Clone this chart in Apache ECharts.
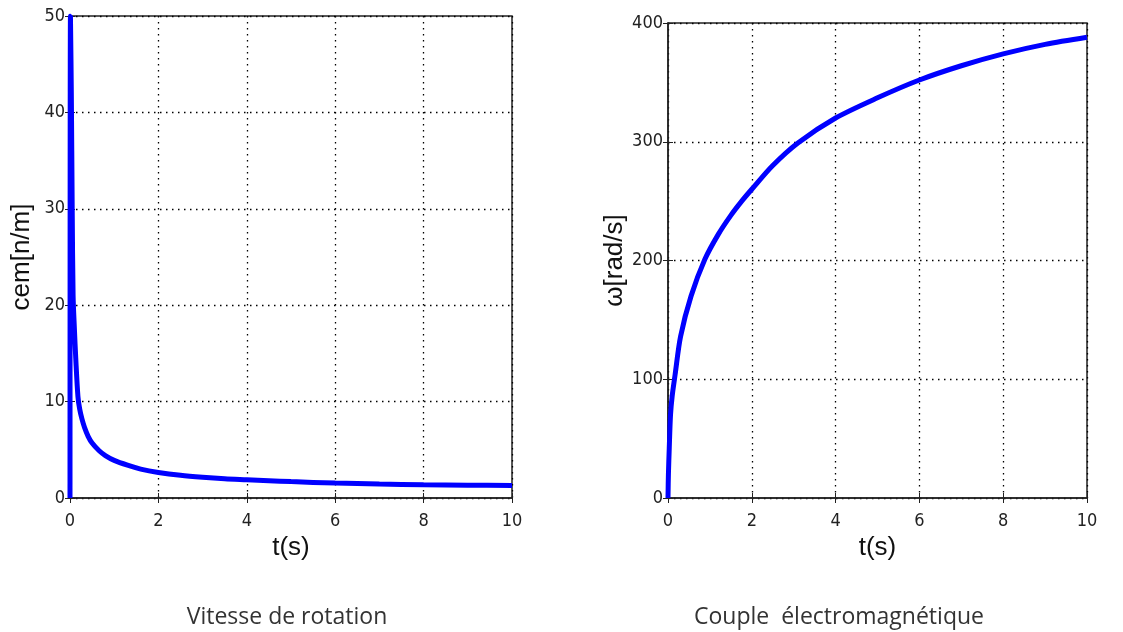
<!DOCTYPE html>
<html>
<head>
<meta charset="utf-8">
<script src="https://cdn.jsdelivr.net/npm/echarts@6/dist/echarts.min.js"></script>
<style>html,body{margin:0;padding:0;background:#fff}#c{width:1123px;height:632px}</style>
</head>
<body>
<div id="c"></div>
<script>
// Left chart: cem [n/m] vs t(s)
const tCem = [0, 0.01, 0.03, 0.05, 0.07, 0.1, 0.13, 0.18, 0.22, 0.27, 0.33, 0.41, 0.5, 0.66, 0.8, 1, 1.3, 1.6, 2, 2.5, 3, 3.5, 4, 4.5, 5, 6, 7, 8, 9, 10];
const cem  = [0, 50, 42, 30, 21, 17.5, 14.5, 10.5, 9.2, 8.2, 7.3, 6.4, 5.7, 4.9, 4.4, 3.9, 3.4, 3.0, 2.65, 2.35, 2.15, 2.0, 1.9, 1.8, 1.7, 1.55, 1.45, 1.38, 1.33, 1.3];
// Right chart: omega [rad/s] vs t(s)
const tOmega = [0, 0.01, 0.03, 0.06, 0.1, 0.17, 0.3, 0.55, 0.88, 1.2, 1.5, 1.76, 2, 2.5, 3.1, 4, 5, 6, 7, 8, 9, 10];
const omega  = [0, 20, 42, 70, 86, 104, 136, 170, 201, 222, 238, 250, 260, 280, 299, 320, 337, 352, 364, 374, 382, 388];
// Axis ticks
const xTicks = [0, 2, 4, 6, 8, 10];
const yTicksCem = [0, 10, 20, 30, 40, 50];
const yTicksOmega = [0, 100, 200, 300, 400];
const captions = ['Vitesse de rotation', 'Couple  électromagnétique'];

const tickFont = {fontFamily: '"Liberation Sans Narrow","DejaVu Sans Condensed","Liberation Sans",Arial,sans-serif', fontSize: 18, color: '#222'};
const nameFont = {fontFamily: '"Liberation Sans",Arial,sans-serif', fontSize: 26, color: '#111'};
const grid = (i) => ({show: true, borderColor: '#222', borderWidth: 1.5, backgroundColor: '#fff'});
const gridLine = {show: true, lineStyle: {color: '#000', width: 1.3, type: [1.5, 4.5]}};

function mainX(gi) {
  return {type: 'value', gridIndex: gi, min: xTicks[0], max: xTicks[xTicks.length-1], interval: xTicks[1]-xTicks[0],
    name: 't(s)', nameLocation: 'middle', nameGap: 37, nameTextStyle: nameFont,
    axisLine: {show: true, onZero: false, lineStyle: {color: '#222', width: 1.5}},
    axisTick: {show: true, inside: true, length: 5, lineStyle: {color: '#222'}},
    axisLabel: Object.assign({margin: 14}, tickFont), splitLine: gridLine};
}
function topX(gi) {
  return {type: 'value', gridIndex: gi, position: 'top', min: xTicks[0], max: xTicks[xTicks.length-1], interval: xTicks[1]-xTicks[0],
    axisLine: {show: false}, axisTick: {show: true, inside: true, length: 5, lineStyle: {color: '#222'}},
    axisLabel: {show: false}, splitLine: {show: false}};
}
function mainY(gi, ticks, name, gap) {
  return {type: 'value', gridIndex: gi, min: ticks[0], max: ticks[ticks.length-1], interval: ticks[1]-ticks[0],
    name: name, nameLocation: 'middle', nameGap: gap, nameTextStyle: nameFont,
    axisLine: {show: true, onZero: false, lineStyle: {color: '#222', width: 1.5}},
    axisTick: {show: true, inside: true, length: 5, lineStyle: {color: '#222'}},
    axisLabel: Object.assign({margin: 5}, tickFont), splitLine: gridLine};
}
function rightY(gi, ticks) {
  return {type: 'value', gridIndex: gi, position: 'right', min: ticks[0], max: ticks[ticks.length-1], interval: ticks[1]-ticks[0],
    axisLine: {show: false}, axisTick: {show: true, inside: true, length: 5, lineStyle: {color: '#222'}},
    axisLabel: {show: false}, splitLine: {show: false}};
}

const chart = echarts.init(document.getElementById('c'), null, {renderer: 'canvas'});
chart.setOption({
  backgroundColor: '#fff',
  animation: false,
  grid: [
    Object.assign(grid(0), {left: 70, top: 16, width: 442, height: 482}),
    Object.assign(grid(1), {left: 668, top: 23, width: 419, height: 475})
  ],
  xAxis: [mainX(0), topX(0), mainX(1), topX(1)],
  yAxis: [mainY(0, yTicksCem, 'cem[n/m]', 35), rightY(0, yTicksCem), mainY(1, yTicksOmega, 'ω[rad/s]', 29), rightY(1, yTicksOmega)],
  series: [
    {type: 'line', xAxisIndex: 0, yAxisIndex: 0, data: tCem.map((t, i) => [t, cem[i]]), showSymbol: false, smooth: 0.3,
      lineStyle: {color: '#0000ff', width: 5}, z: 5},
    {type: 'line', xAxisIndex: 2, yAxisIndex: 2, data: tOmega.map((t, i) => [t, omega[i]]), showSymbol: false, smooth: 0.3,
      lineStyle: {color: '#0000ff', width: 5}, z: 5}
  ],
  graphic: [
    {type: 'text', x: 287, y: 617, style: {text: captions[0], textAlign: 'center', textVerticalAlign: 'middle',
      fontFamily: '"Open Sans","Noto Sans",sans-serif', fontSize: 23, fill: '#333'}},
    {type: 'text', x: 839, y: 617, style: {text: captions[1], textAlign: 'center', textVerticalAlign: 'middle',
      fontFamily: '"Open Sans","Noto Sans",sans-serif', fontSize: 23, fill: '#333'}}
  ]
});
</script>
</body>
</html>
